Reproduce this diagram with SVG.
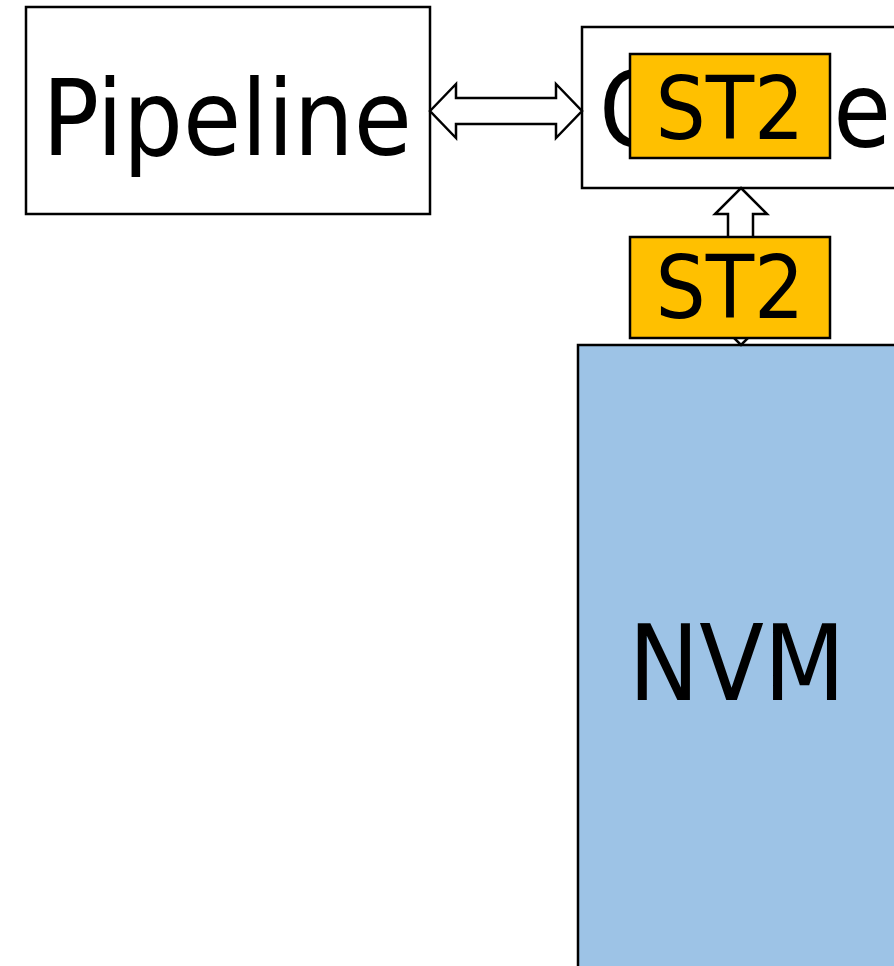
<svg xmlns="http://www.w3.org/2000/svg" width="894" height="966" viewBox="0 0 894 966">
<style>
.box{fill:#fff;stroke:#000;stroke-width:2.5}
.st{fill:#FFC000;stroke:#000;stroke-width:2.5}
.nvm{fill:#9DC3E6;stroke:#000;stroke-width:2.5}
.arr{fill:#fff;stroke:#000;stroke-width:2.5;stroke-linejoin:miter}
text{font-family:"DejaVu Sans Condensed","DejaVu Sans",Verdana,sans-serif;fill:#000;text-anchor:middle}
.big{font-size:105px}
.mid{font-size:88px}
</style>
<rect width="894" height="966" fill="#fff"/>
<g id="pipeline">
<rect class="box" x="26" y="7" width="404" height="207"/>
<text class="big" x="227" y="155">Pipeline</text>
</g>
<g id="cache">
<rect class="box" x="582" y="27" width="340" height="161"/>
<text class="big" x="745" y="147" textLength="292" lengthAdjust="spacingAndGlyphs">Cache</text>
</g>
<g id="nvm">
<rect class="nvm" x="578" y="345" width="340" height="640"/>
<text class="big" x="737" y="700">NVM</text>
</g>
<g id="connectors">
<path class="arr" d="M430,111 L456,84 L456,98 L556,98 L556,84 L582,111 L556,138 L556,124 L456,124 L456,138 Z"/>
<path class="arr" d="M741,188 L767,214 L753,214 L753,319 L767,319 L741,345 L715,319 L728,319 L728,214 L715,214 Z"/>
</g>
<g id="st2-top">
<rect class="st" x="630" y="54" width="200" height="104"/>
<text class="mid" x="730" y="139">ST2</text>
</g>
<g id="st2-bottom">
<rect class="st" x="630" y="237" width="200" height="101"/>
<text class="mid" x="730" y="318">ST2</text>
</g>
</svg>
